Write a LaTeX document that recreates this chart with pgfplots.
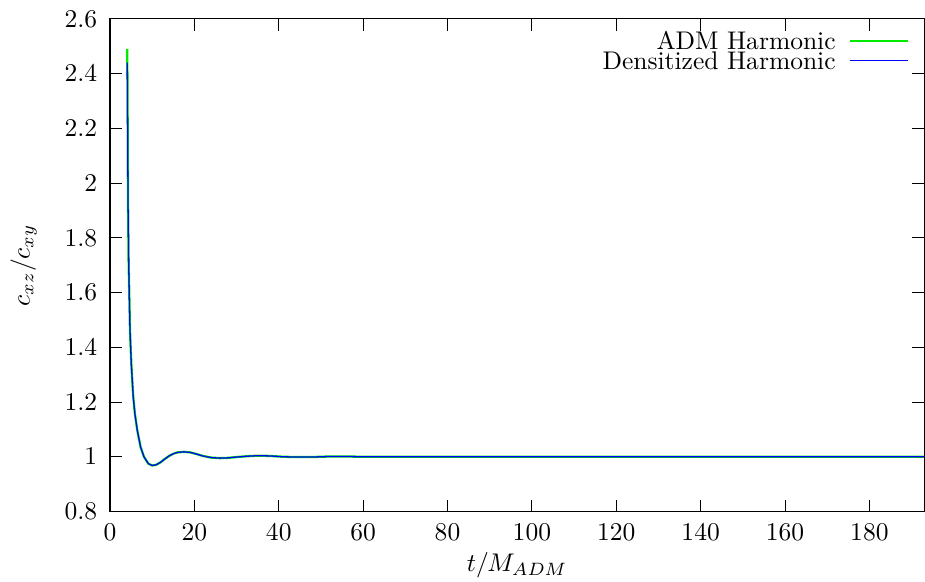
\documentclass[border=0pt]{standalone}
\usepackage{pgfplots}
\pgfplotsset{compat=1.18}

\pgfplotstableread{
t c
4.10 2.44
4.19 2.19
4.26 1.95
4.42 1.71
4.74 1.46
5.05 1.34
5.50 1.22
5.90 1.157
6.47 1.096
7.26 1.035
8.05 1.000
9.07 0.975
10.0 0.968
11.0 0.971
12.0 0.980
13.0 0.992
14.0 1.003
15.0 1.011
16.0 1.016
17.5 1.018
19.0 1.016
20.5 1.010
22.0 1.003
24.0 0.997
26.0 0.995
28.0 0.996
30.0 0.999
32.5 1.002
35.0 1.004
38.0 1.003
41.0 1.000
44.0 0.999
48.0 0.999
52.0 1.001
56.0 1.001
60.0 1.000
193.0 1.000
}\densharm

\pgfplotstableread{
t c
4.08 2.49
4.10 2.44
4.19 2.19
4.26 1.95
4.42 1.71
4.74 1.46
5.05 1.34
5.50 1.22
5.90 1.157
6.47 1.096
7.26 1.035
8.05 1.000
9.07 0.975
10.0 0.968
11.0 0.971
12.0 0.980
13.0 0.992
14.0 1.003
15.0 1.011
16.0 1.016
17.5 1.018
19.0 1.016
20.5 1.010
22.0 1.003
24.0 0.997
26.0 0.995
28.0 0.996
30.0 0.999
32.5 1.002
35.0 1.004
38.0 1.003
41.0 1.000
44.0 0.999
48.0 0.999
52.0 1.001
56.0 1.001
60.0 1.000
193.0 1.000
}\admharm

\begin{document}
\begin{tikzpicture}
\begin{axis}[
    scale only axis,
    width=319pt, height=193pt,
    xmin=0, xmax=193,
    ymin=0.8, ymax=2.6,
    xtick={0,20,...,180},
    ytick={0.8,1,...,2.6},
    yticklabel style={/pgf/number format/fixed, xshift=-1.5pt},
    xticklabel style={yshift=-1.3pt},
    tick align=inside,
    major tick length=4.7pt,
    every tick/.style={black, line width=0.4pt},
    axis line style={line width=0.4pt},
    xlabel={$t/M_{ADM}$},
    ylabel={$c_{xz}/c_{xy}$},
    xlabel style={yshift=2pt},
    ylabel shift=4pt,
    legend plot pos=right,
    legend cell align=right,
    legend image code/.code={\draw[#1] (0pt,0pt) -- (23pt,0pt);},
    legend style={draw=none, fill=none, inner sep=0pt, outer sep=0pt,
        at={(1,1)}, anchor=north east, xshift=-5.8pt, yshift=-5.2pt,
        row sep=0.8pt, nodes={inner sep=0pt, text height=6.9pt, text depth=0pt},
        column sep=5pt},
]
\addplot[color={rgb,255:red,0;green,235;blue,0}, line width=0.9pt] table[x=t,y=c] {\admharm};
\addlegendentry{ADM Harmonic}
\addplot[color={rgb,255:red,0;green,0;blue,255}, line width=0.5pt] table[x=t,y=c] {\densharm};
\addlegendentry{Densitized Harmonic}
\end{axis}
\pgfresetboundingbox
\path ([xshift=-43.1pt,yshift=-27.4pt]current axis.south west)
   rectangle ([xshift=0.3pt,yshift=7.4pt]current axis.north east);
\end{tikzpicture}
\end{document}
